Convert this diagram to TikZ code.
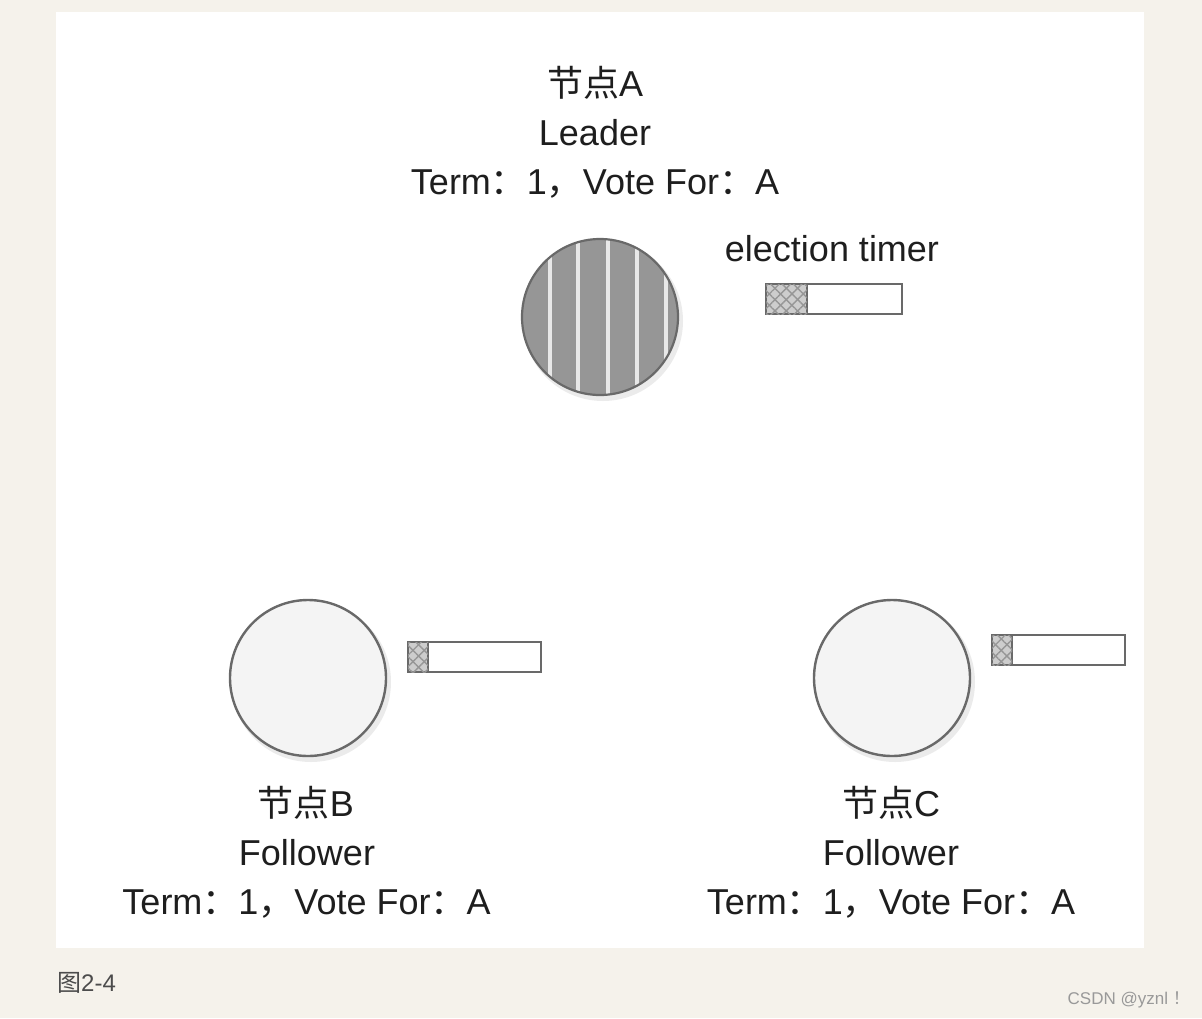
\documentclass[tikz,border=0pt]{standalone}
\usepackage{fontspec}
\setmainfont{Liberation Sans}
\newfontfamily\cjk{Noto Sans CJK SC}
\usetikzlibrary{patterns.meta}
\definecolor{bgc}{RGB}{245,242,235}
\definecolor{txt}{RGB}{30,30,30}
\definecolor{edgec}{RGB}{105,105,105}
\definecolor{leadfill}{RGB}{150,150,150}
\definecolor{stripec}{RGB}{232,232,232}
\definecolor{follfill}{RGB}{244,244,244}
\definecolor{hatchbase}{RGB}{205,205,205}
\definecolor{hatchline}{RGB}{150,150,150}
\newcommand{\fcol}{{\cjk ：}}
\newcommand{\fcom}{{\cjk ，}}
\begin{document}
\begin{tikzpicture}[x=1pt,y=-1pt,
  lbl/.style={anchor=base, inner sep=0pt, text=txt, font=\fontsize{36}{40}\selectfont},
  shadowc/.style={circle, fill=black, opacity=0.08, minimum size=160pt, inner sep=0pt},
  leader/.style={circle, draw=edgec, line width=2.2pt, fill=leadfill, minimum size=156pt, inner sep=0pt,
    path picture={\foreach \dx in {-50,-22,8,37,66}{\draw[stripec, line width=4pt] ([xshift=\dx pt]path picture bounding box.north) -- ([xshift=\dx pt]path picture bounding box.south);}}},
  follower/.style={circle, draw=edgec, line width=2.4pt, fill=follfill, minimum size=156pt, inner sep=0pt},
  timerbox/.style={rectangle, draw=edgec, line width=2.4pt, fill=white, minimum height=30pt, inner sep=0pt},
  hatchbox/.style={rectangle, draw=edgec, line width=2.4pt, fill=hatchbase, minimum height=30pt, inner sep=0pt, anchor=west,
    postaction={pattern={Lines[angle=45,distance=8pt,line width=1.4pt]}, pattern color=hatchline},
    postaction={pattern={Lines[angle=-45,distance=8pt,line width=1.4pt]}, pattern color=hatchline}}
]
\fill[bgc] (0,0) rectangle (1202,1018);
\useasboundingbox (0,0) rectangle (1202,1018);
\fill[white] (56,12) rectangle (1144,948);

% shadows
\node[shadowc] (sA) at (603,321) {};
\node[shadowc] (sB) at (311,682) {};
\node[shadowc] (sC) at (895,682) {};

% circles
\node[leader] (A) at (600,317) {};
\node[follower] (B) at (308,678) {};
\node[follower] (C) at (892,678) {};

% timers
\node[timerbox, minimum width=136pt] (TA) at (834,299) {};
\node[hatchbox, minimum width=41pt] (HA) at (TA.west) {};
\node[timerbox, minimum width=133pt] (TB) at (474.5,657) {};
\node[hatchbox, minimum width=20pt] (HB) at (TB.west) {};
\node[timerbox, minimum width=133pt] (TC) at (1058.5,650) {};
\node[hatchbox, minimum width=20pt] (HC) at (TC.west) {};

% labels A
\node[lbl] (A1) at (595,96) {{\cjk 节点}A};
\node[lbl] (A2) at (595,145) {Leader};
\node[lbl] (A3) at (595,194) {Term\fcol 1\fcom Vote For\fcol A};
\node[lbl] (ET) at (832,261) {election timer};

% labels B
\node[lbl] (B1) at (306,816) {{\cjk 节点}B};
\node[lbl] (B2) at (307,865) {Follower};
\node[lbl] (B3) at (306.5,914) {Term\fcol 1\fcom Vote For\fcol A};

% labels C
\node[lbl] (C1) at (891,816) {{\cjk 节点}C};
\node[lbl] (C2) at (891,865) {Follower};
\node[lbl] (C3) at (891,914) {Term\fcol 1\fcom Vote For\fcol A};

% caption and watermark
\node[anchor=base west, inner sep=0pt, text=black!70, font=\fontsize{24}{28}\selectfont] (cap) at (57,991) {{\cjk 图}2-4};
\node[anchor=base east, inner sep=0pt, text=black!40, font=\fontsize{17}{20}\selectfont] (wm) at (1190,1004) {CSDN @yznl {\cjk ！}};
\end{tikzpicture}
\end{document}
